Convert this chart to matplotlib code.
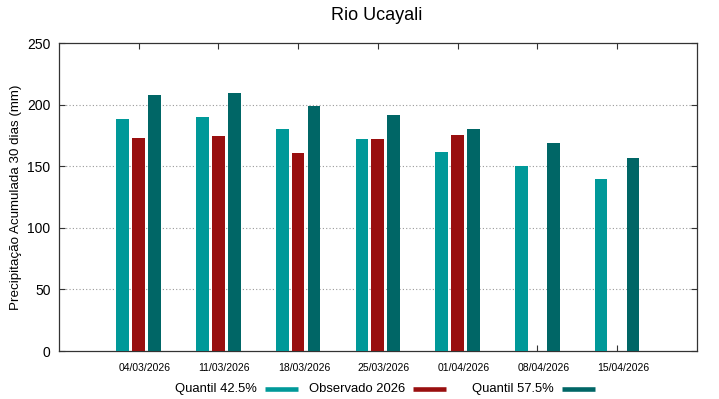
import numpy as np
import matplotlib
matplotlib.use("Agg")
import matplotlib.pyplot as plt
import matplotlib.transforms as mtransforms
from matplotlib.lines import Line2D

plt.rcParams["font.family"] = ["Liberation Sans", "DejaVu Sans"]

datas = ["04/03/2026", "11/03/2026", "18/03/2026", "25/03/2026",
         "01/04/2026", "08/04/2026", "15/04/2026"]
quantil_425 = [188.3, 190.5, 180.5, 172.2, 161.4, 150.0, 139.7]
observado_2026 = [173.4, 174.8, 160.7, 172.2, 175.4, np.nan, np.nan]
quantil_575 = [207.8, 209.4, 199.4, 191.6, 180.5, 168.9, 156.5]

nomes = ["Quantil 42.5%", "Observado 2026", "Quantil 57.5%"]
cor_q425 = "#009999"
cor_obs = "#990f0f"
cor_q575 = "#006666"

W, H = 719, 399
fig = plt.figure(figsize=(W / 100, H / 100), dpi=100)
ax = fig.add_axes([0.082, 0.1203, 0.887, 0.7707])

x = np.arange(len(datas))
w = 0.16
ax.bar(x - 0.2, quantil_425, width=w, color=cor_q425, zorder=3)
ax.bar(x, observado_2026, width=w, color=cor_obs, zorder=3)
ax.bar(x + 0.2, quantil_575, width=w, color=cor_q575, zorder=3)

ax.set_xlim(-1, 7)
ax.set_ylim(0, 250)
ax.set_yticks([0, 50, 100, 150, 200, 250])
ax.set_xticks(x)
ax.set_xticklabels([])
# rotulos das datas deslocados um pouco para a direita, como no gnuplot
desloc = ax.get_xaxis_transform() + mtransforms.ScaledTranslation(
    0.06, -0.17, fig.dpi_scale_trans)
for xi, d in zip(x, datas):
    ax.text(xi, 0, d, transform=desloc, ha="center", va="center", fontsize=7.5)

ax.tick_params(axis="x", direction="in", length=4.5, top=True)
ax.tick_params(axis="y", direction="in", length=4.5, right=True, labelsize=10, pad=6)
ax.tick_params(axis="both", color="#333333")
for s in ax.spines.values():
    s.set_color("#333333")
    s.set_linewidth(0.9)

for v in [50, 100, 150, 200]:
    ax.axhline(v, color="#999999", lw=0.8, ls=(0, (1, 2)), zorder=1)

fig.text(16 / W, 0.506, "Precipitação Acumulada 30 dias (mm)", rotation=90,
         ha="center", va="center", fontsize=9.6)
fig.text(0.524, 0.96, "Rio Ucayali", ha="center", va="center", fontsize=13)

# legenda no estilo gnuplot: texto alinhado a direita e amostra depois
fim_texto = [256.5, 405, 554]
for nome, cor, xt in zip(nomes, (cor_q425, cor_obs, cor_q575), fim_texto):
    fig.text(xt / W, 1 - 389 / H, nome, ha="right", va="center", fontsize=9.4)
    fig.add_artist(Line2D([(xt + 8) / W, (xt + 41) / W], [1 - 388.7 / H] * 2,
                          color=cor, lw=3.3, solid_capstyle="butt"))

fig.savefig("out.png", dpi=100)
